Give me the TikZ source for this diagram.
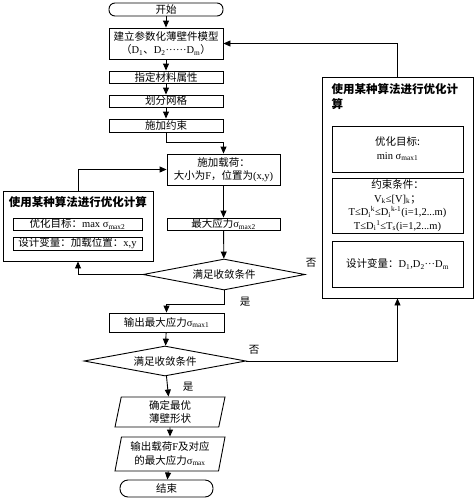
\documentclass[tikz,border=0pt]{standalone}
\usepackage{fontspec}
\setmainfont{Noto Sans CJK SC}
\newfontfamily\tm{Liberation Serif}
\usetikzlibrary{shapes.geometric,arrows.meta}

\begin{document}
\begin{tikzpicture}[x=1pt,y=-1pt,font=\fontsize{10.5}{13.5}\selectfont,
  box/.style={draw,line width=.9pt,inner sep=.5pt,align=center},
  term/.style={box,rounded corners=6pt},
  dec/.style={draw,line width=.9pt,diamond,aspect=5.2,inner sep=0pt,minimum width=162pt,minimum height=31pt},
  iobox/.style={draw,line width=.9pt,trapezium,trapezium left angle=75,trapezium right angle=105,
    trapezium stretches body,inner sep=0pt,align=center,minimum width=110pt},
  arr/.style={line width=.9pt,-{Triangle[length=7pt,width=6pt]}},
  ttl/.style={font=\fontsize{11.5}{15}\selectfont\bfseries}]
\newcommand{\smax}[1]{{\tm σ\textsubscript{max#1}}}%
\useasboundingbox (0,0) rectangle (474,498);
% main column
\node[term,minimum width=114pt,minimum height=13pt] (start) at (166,9.5) {开始};
\node[box,minimum width=114pt,minimum height=31pt] (model) at (166,43.5)
  {建立参数化薄壁件模型\\（{\tm D\textsubscript{1}}、{\tm D\textsubscript{2}······D\textsubscript{m}}）};
\node[box,minimum width=114pt,minimum height=12pt] (mat) at (166,77) {指定材料属性};
\node[box,minimum width=114pt,minimum height=12pt] (mesh) at (166,101) {划分网格};
\node[box,minimum width=114pt,minimum height=13pt] (cons) at (166,125.5) {施加约束};
\node[box,minimum width=113pt,minimum height=31pt] (load) at (223.5,169.5)
  {施加载荷：\\大小为{\tm F}，位置为{\tm (x,y)}};
\node[box,minimum width=113pt,minimum height=12pt] (smaxb) at (223.5,224) {最大应力\smax{2}};
\node[dec] (dia1) at (224,274.5) {满足收敛条件};
\node[box,minimum width=115pt,minimum height=19pt] (out1) at (166.5,322.5) {输出最大应力\smax{1}};
\node[dec,minimum height=30pt] (dia2) at (165,361) {满足收敛条件};
\node[iobox,minimum height=30pt] (shape) at (170,412) {确定最优\\薄壁形状};
\node[iobox,minimum height=34pt] (outF) at (170,454) {输出载荷{\tm F}及对应\\的最大应力{\tm σ\textsubscript{max}}};
\node[term,minimum width=93pt,minimum height=17pt,rounded corners=8pt] (end) at (166.5,488.5) {结束};
% left optimisation box
\node[box,minimum width=150pt,minimum height=70pt] (leftbox) at (78,226) {};
\node[ttl] (ltitle) at (78,202) {使用某种算法进行优化计算};
\node[box,minimum width=129pt,minimum height=12pt] (lobj) at (77.5,224) {优化目标：{\tm max }\smax{2}};
\node[box,minimum width=129pt,minimum height=13pt] (lvar) at (77.5,243.5) {设计变量：加载位置：{\tm x,y}};
% right optimisation box
\node[box,minimum width=151pt,minimum height=221pt] (rightbox) at (397.5,187.5) {};
\node[ttl,anchor=north west,align=left] (rtitle) at (328,80) {使用某种算法进行优化计\\算};
\node[box,minimum width=131pt,minimum height=46pt] (robj) at (397.5,149)
  {优化目标:\\{\tm min }\smax{1}};
\node[box,minimum width=131pt,minimum height=55pt,font=\fontsize{10.5}{13.5}\selectfont] (rcons) at (397.5,205.5)
  {约束条件：\\{\tm V\textsubscript{k}≤[V]\textsubscript{k}}；\\
   {\tm T≤D\textsubscript{i}\textsuperscript{k}≤D\textsubscript{i}\textsuperscript{k-1}(i=1,2...m)}\\
   {\tm T≤D\textsubscript{i}\textsuperscript{1}≤T\textsubscript{s}(i=1,2...m)}};
\node[box,minimum width=131pt,minimum height=46pt] (rvar) at (397.5,264)
  {设计变量：{\tm D\textsubscript{1},D\textsubscript{2}···D\textsubscript{m}}};
% labels
\node (no1) at (311,263) {否};
\node (yes1) at (245,302) {是};
\node (no2) at (254,350) {否};
\node (yes2) at (188,387) {是};
% connectors
\draw[arr] (start) -- (model);
\draw[arr] (model) -- (mat);
\draw[arr] (mat) -- (mesh);
\draw[arr] (mesh) -- (cons);
\draw[arr] (cons.south) -- ++(0,10) -| (load.north);
\draw[arr] (load) -- (smaxb);
\draw[arr] (smaxb) -- (dia1);
\draw[arr] (dia1.west) -| (leftbox.south);
\draw[arr] (leftbox.north) |- (load.west);
\draw[arr] (dia1.south) -- ++(0,14) -| (out1.north);
\draw[arr] (out1) -- (dia2);
\draw[arr] (dia2.east) -| (rightbox.south);
\draw[arr] (rightbox.north) |- (model.east);
\draw[arr] (dia2) -- (shape);
\draw[arr] (shape) -- (outF);
\draw[arr] (outF) -- (end);
\end{tikzpicture}
\end{document}
